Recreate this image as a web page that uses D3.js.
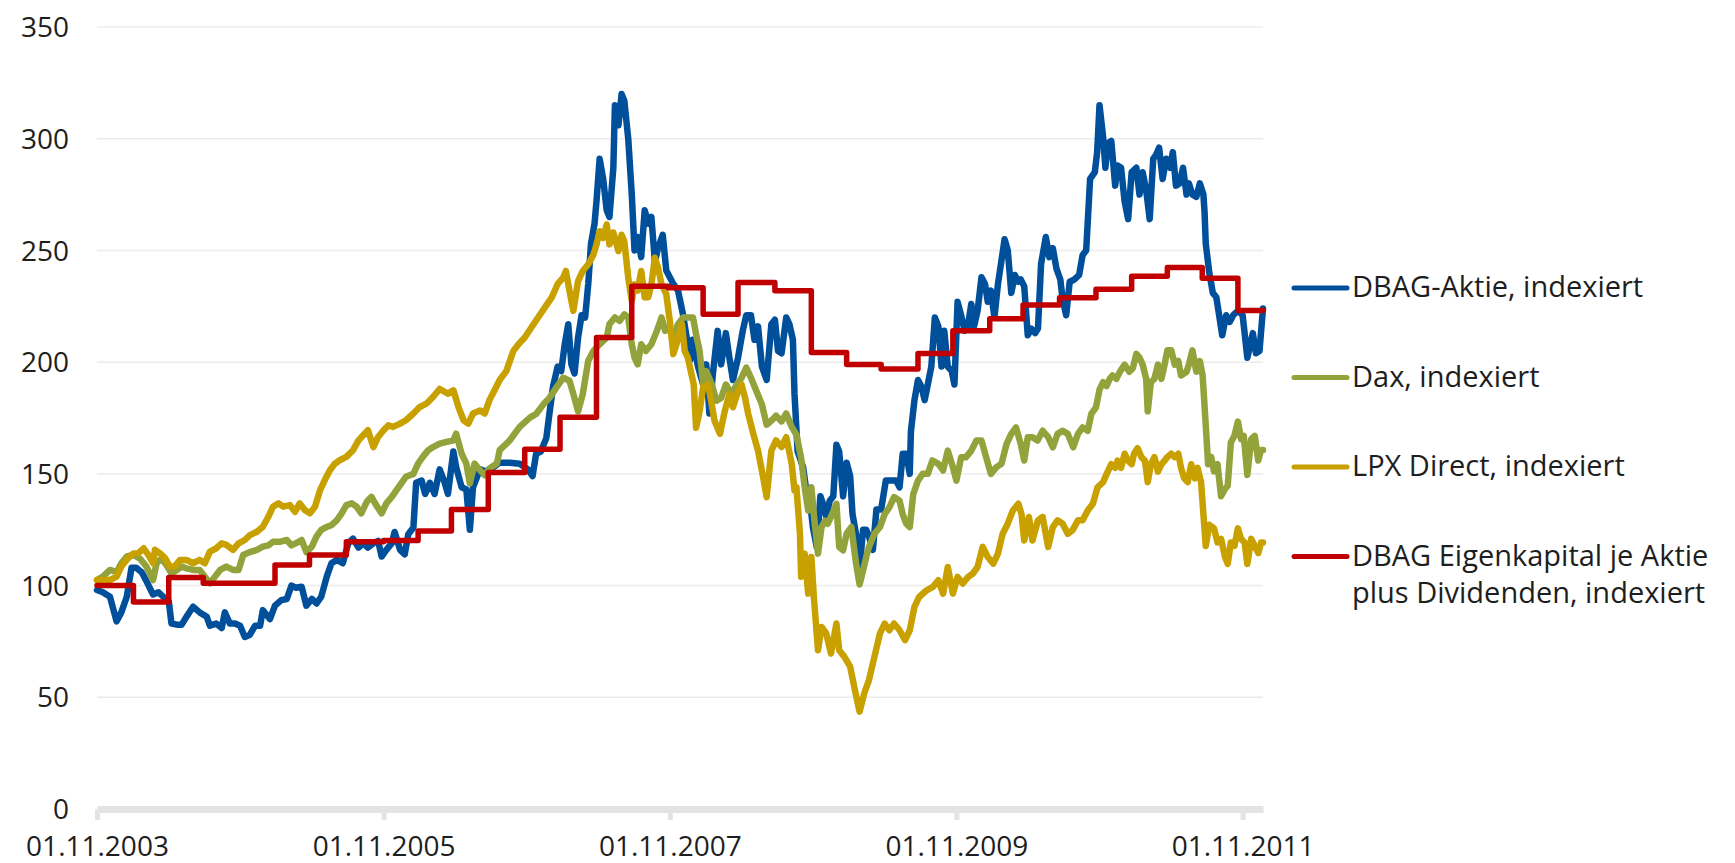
<!DOCTYPE html>
<html>
<head>
<meta charset="utf-8">
<script src="https://cdn.jsdelivr.net/npm/d3@7"></script>
<style>
    body { margin: 0; background: #fff; }
    #chart { width: 1735px; height: 863px; }
    text { font-family: 'Open Sans', 'Noto Sans', sans-serif; fill: #1e1e1e; }
    .grid { stroke: #ececec; stroke-width: 1.5; }
    .axis-x .domain { stroke: #e3e3e3; stroke-width: 7; }
    .axis-x .tick line { stroke: #e3e3e3; stroke-width: 5; }
    .series { fill: none; stroke-linejoin: round; stroke-linecap: round; }
</style>
</head>
<body>
<div id="chart"></div>
<script>
// values
// each point: [months since 01.11.2003, indexed value]
const dbagAktie = [
    [0,98],[0.5,97],[1.1,95],[1.65,84],[2.05,88],[2.5,95],[2.9,108],[3.3,108],[3.75,106],[4.15,102],[4.7,96],[5.15,97],[5.55,95],[6.0,93],[6.25,83],[6.7,82.5],[7.1,82.5],[7.5,86],[8.05,90.5],[8.6,88],[9.2,86],[9.45,82],[10.0,83],[10.45,81],[10.7,88],[11.15,83],[11.55,83],[12.0,82],[12.4,77],[12.8,78],[13.25,82],[13.65,82],[13.9,89],[14.5,85],[14.9,91],[15.45,93.5],[15.9,94],[16.3,100],[16.7,99],[17.15,99.5],[17.55,91],[18.0,94],[18.4,92],[18.8,95],[19.25,104],[19.65,110],[20.1,111.5],[20.6,110],[21.05,119],[21.45,121],[21.9,117],[22.3,119],[22.7,117],[23.15,119],[23.55,120],[23.85,113],[24.25,116],[24.7,119],[24.95,124],[25.4,116],[25.8,114],[26.1,123],[26.5,126],[26.75,146],[27.2,147],[27.5,141],[27.9,146],[28.3,141],[28.7,152],[29.15,146],[29.4,141],[29.85,160],[30.1,153],[30.55,144],[30.95,143],[31.25,125],[31.5,144],[32.1,152],[32.6,151],[33.2,153],[33.75,155],
    [34.6,155],[35.4,154.5],[36.1,152],[36.5,149],[36.8,159],[37.2,160],[37.65,166],[37.9,177],[38.2,189],[38.6,198],[38.9,196],[39.2,208],[39.5,217],[39.75,199],[40.0,195],[40.3,211],[40.6,221],[40.9,220],[41.15,235],[41.4,253],[41.7,262],[41.85,272],[42.1,291],[42.4,282],[42.7,268],[42.95,265],[43.25,287],[43.4,315],[43.7,306],[43.95,320],[44.2,317],[44.5,300],[44.8,275],[45.05,250],[45.3,256],[45.6,247],[45.9,268],[46.2,262],[46.45,265],[46.75,245],[47.0,251],[47.4,257],[47.7,241],[48.0,238],[48.3,235],[48.7,232],[49.1,221],[49.4,211],[49.7,201],[49.9,210],[50.35,198],[50.8,190],[51.05,199],[51.3,177],[51.6,195],[52.0,214],[52.3,199],[52.7,213],[53.0,202],[53.3,192],[53.7,202],[54.1,214],[54.4,221],[54.8,221],[55.1,210],[55.4,216],[55.7,198],[56.1,192],[56.5,217],[56.8,219],[57.05,205],[57.35,204],[57.75,220],[58.0,217],[58.3,210],[58.45,186],[58.7,160],
    [59.15,153],[59.4,144],[59.7,140],[60.0,126],[60.3,117],[60.6,140],[60.8,137],[61.1,131],[61.4,138],[61.7,140],[61.95,163],[62.2,160],[62.5,140],[62.8,155],[63.1,149],[63.3,132],[63.6,123],[63.9,108],[64.2,125],[64.45,125],[64.7,122],[65.0,116],[65.3,134],[65.7,134],[66.1,147],[66.55,147],[66.95,147],[67.25,144],[67.5,159],[67.8,159],[68.1,150],
    [68.2,169],[68.5,183],[68.8,192],[69.1,189],[69.35,183],[69.6,190],[69.9,198],[70.2,220],[70.5,216],[70.75,198],[71.0,214],[71.3,198],[71.6,196],[71.85,190],[72.1,227],[72.4,221],[72.7,214],[72.95,216],[73.25,226],[73.5,216],[73.8,223],[74.1,238],[74.4,235],[74.65,227],[74.9,232],[75.2,220],[75.5,235],
    [76.05,255],[76.3,250],[76.6,231],[76.9,239],[77.2,236],[77.4,237],[77.7,234],[78.0,212],[78.3,215],[78.6,213],[78.85,215],[79.1,244],[79.5,256],[79.8,247],[80.1,251],[80.4,242],[80.7,237],[80.9,228],[81.2,221],[81.5,236],[81.9,237],[82.3,239],[82.6,248],[82.9,250],[83.2,282],[83.6,285],[83.8,294],[84.0,315],[84.3,301],[84.5,287],[84.7,298],[85.0,299],[85.3,279],[85.5,288],[85.8,287],[86.1,272],[86.4,264],[86.7,285],[87.1,287],[87.35,275],[87.6,285],[87.9,277],[88.2,264],[88.5,291],[88.75,293],[89.0,296],[89.3,282],[89.6,291],[89.9,287],[90.15,294],[90.4,279],[90.7,280],[91.0,287],[91.3,275],[91.5,280],[91.8,275],[92.1,274],[92.4,280],[92.7,275],[92.8,267],[92.9,253],[93.2,240],[93.5,231],[93.8,229],[94.05,220],[94.3,212],[94.6,221],[94.9,218],[95.2,221],[95.6,223],[96.0,221],[96.4,202],[96.85,213],[97.1,204],[97.4,205],[97.7,224]
];

const dax = [
    [0,102.5],[0.5,104],[1.1,107],[1.65,106],[2.05,110],[2.5,113],[3.05,113.7],[3.6,112],[4.15,108.5],[4.7,102.5],[5.0,110],[5.4,112],[5.85,109],[6.25,105.5],[6.7,107],[7.1,108.5],[7.5,107.7],[8.05,107],[8.6,107],[9.05,104],[9.45,101],[9.9,104],[10.3,107],[10.85,108.5],[11.4,107],[11.85,107],[12.25,113.7],[12.8,115],[13.4,116],[13.9,117.4],[14.35,118],[14.75,119.6],[15.3,119.6],[15.9,120.4],[16.3,118],[16.7,119],[17.15,120.4],[17.55,115],[18.0,117.4],[18.4,122],[18.8,124.9],[19.25,126.3],[19.65,127],[20.1,129.3],[20.5,132.3],[20.9,136],[21.35,136.8],[21.75,135.3],[22.15,132.3],[22.6,137.5],[23.0,139.7],[23.4,136],[23.85,132.3],[24.25,136.8],[24.7,139.7],[25.1,142.7],[25.5,145.7],[25.9,148.7],[26.5,150],[26.9,154.6],[27.3,157.6],[27.75,160.6],[28.15,162],[28.7,163.5],[29.3,164.3],[29.85,165],[30.1,168],[30.55,159],[30.95,154.6],[31.25,145.7],[31.65,154.6],[32.1,151.6],[32.5,149.4],[32.9,152.4],[33.5,154.6],[33.75,160.6],
    [34.6,165],[35.4,171],[36.3,175.3],[36.8,176.8],[37.4,181],[37.9,184],[38.5,188.7],[39.05,193],[39.6,191.7],[39.9,185.7],[40.3,178],[40.7,185.7],[41.15,200.6],[41.6,205],[42.1,208],[42.7,211],[42.95,217],[43.4,220],[43.8,218.5],[44.2,221.4],[44.5,220],[44.8,208],[45.05,202],[45.3,199],[45.6,208],[46.0,205],[46.45,208],[46.9,214],[47.3,220],[47.6,214],[47.85,215.5],[48.3,211],[48.7,217],[49.1,220],[49.5,220],[49.95,220],[50.2,212.5],[50.5,205],[50.8,190],[51.05,196],[51.5,190],[51.9,182.7],[52.3,184],[52.7,190],[53.15,185.7],[53.6,190],[54.0,193],[54.4,197.6],[54.8,193],[55.25,187],[55.7,181],[56.1,172],[56.5,173.8],[56.9,176],[57.35,173.5],[57.75,177],[58.2,171],[58.6,167.5],[59.0,157],
    [59.3,144],[59.6,133.6],[59.85,144],[60.1,130.7],[60.4,114.3],[60.7,126.2],[61.0,129],[61.25,127.7],[61.5,130.7],[61.95,136.6],[62.2,117.3],[62.5,115.8],[62.8,123.2],[63.2,126.2],[63.6,110],[63.9,100.5],[64.2,106.8],[64.45,112.8],[64.7,117.3],[65.15,123.2],[65.6,126.2],[66.0,132],[66.4,135],[66.8,139.6],[67.25,138],[67.5,132],[67.8,127.7],[68.1,126.2],[68.4,141],[68.8,147],[69.2,150],[69.6,150],[70.0,156],[70.5,154.5],[70.9,151.5],[71.3,160.4],[71.7,153],[72.0,147],[72.4,157.4],[72.8,157.4],[73.25,160.4],[73.7,164.9],[74.1,164.9],[74.5,157.4],[74.9,150],[75.35,153],[75.8,154.5],[76.2,163.4],[76.6,167.9],[77.0,170.8],[77.4,163.4],[77.7,156],[78.0,166.4],[78.4,166.4],[78.8,164.9],[79.25,169.3],[79.7,166.4],[80.1,161.9],[80.5,167.9],[80.9,169.3],[81.35,167.9],[81.8,161.9],[82.2,167.9],[82.6,170.8],[83.0,169.3],[83.3,176.8],[83.7,179.8],
    [84.0,187.7],[84.3,191],[84.6,189.3],[84.85,192.5],[85.1,194],[85.4,192.5],[85.7,195.7],[86.1,198.9],[86.5,195.7],[86.8,197.3],[87.1,203.7],[87.35,202],[87.6,198.9],[87.9,192.5],[88.05,178],[88.3,191],[88.6,192.5],[88.9,198.9],[89.2,192.5],[89.45,198.9],[89.7,205.3],[90.0,205.3],[90.3,198.9],[90.6,200.5],[90.85,194],[91.3,195.7],[91.5,198.9],[91.8,205.3],[92.1,195.7],[92.4,200.5],[92.65,194],[92.9,171.8],[93.1,154.3],[93.35,157.5],[93.6,151.1],[93.9,154.3],[94.2,140],[94.5,143.2],[94.75,144.7],[95.0,164],[95.3,167],[95.6,173.4],[95.85,165.5],[96.1,167],[96.4,149.5],[96.7,165.5],[97.0,167],[97.3,156],[97.55,160.7],[97.7,160.7]
];

const lpxDirect = [
    [0,102.5],[0.5,102.5],[1.1,102.5],[1.65,104],[2.05,108.5],[2.6,112.2],[3.05,114.4],[3.45,114.4],[3.9,116.7],[4.3,113.7],[4.7,110],[4.85,116],[5.3,114.4],[5.7,112.2],[6.1,108.5],[6.5,108.5],[6.95,111.5],[7.5,111.5],[8.05,110],[8.6,111.5],[9.05,110],[9.45,115.2],[10.0,116.7],[10.45,118.9],[10.85,118.2],[11.4,116],[11.85,118.9],[12.4,120.4],[12.8,122.6],[13.4,124.1],[13.9,126.3],[14.35,130.8],[14.75,135.3],[15.2,136.8],[15.6,135.3],[16.15,136],[16.6,133],[17.0,136.8],[17.4,133.8],[17.85,132.3],[18.25,135.3],[18.7,142.7],[19.1,147.2],[19.5,151.6],[19.95,154.6],[20.35,156.1],[20.9,157.6],[21.45,160.6],[21.9,165],[22.3,167.3],[22.7,169.5],[23.15,162],[23.55,166.5],[24.0,169.5],[24.4,171.7],[24.8,171],[25.4,172.5],[25.9,174],[26.5,177],[27.05,179.9],[27.6,181.4],[28.15,184.4],[28.7,188],[29.4,185.9],[29.85,187.4],[30.3,179.9],[30.7,174],[31.1,172.5],[31.5,177],[32.1,178.4],[32.5,177],[32.9,183],[33.3,187.4],[33.75,192],
    [34.3,196],[34.9,205],[35.3,208],[35.85,211],[36.4,215.5],[36.95,220],[37.5,224.4],[38.1,229],[38.6,235],[39.05,237.8],[39.3,240.8],[39.6,232],[39.9,223],[40.3,236.3],[40.7,240.8],[41.15,243.8],[41.6,248],[41.85,252.7],[42.1,258.6],[42.4,255.6],[42.7,261.6],[42.95,252.7],[43.25,258],[43.7,249.7],[43.95,257],[44.2,254],[44.5,237.8],[44.8,227.4],[45.05,234.8],[45.3,232],[45.6,240.8],[45.9,229],[46.2,229],[46.45,234.8],[46.75,246.7],[47.0,242.3],[47.3,234.8],[47.7,230.4],[48.0,218.5],[48.3,203.6],[48.55,208],[49.0,217],[49.25,205],[49.5,202],[50.0,190],[50.2,170.6],[50.5,178],[50.8,188.7],[51.2,190],[51.5,181],[51.75,173.8],[52.2,167.9],[52.6,178],[53.0,185.7],[53.3,179.8],[53.7,187],[54.0,190],[54.3,184],[54.55,176.8],[55.0,167.9],[55.4,160.4],[55.8,148.5],[56.1,139.6],[56.5,160.4],[56.9,165],[57.35,162],[57.75,166.4],[58.2,154.5],[58.45,142.6],
    [58.6,144],[58.9,123.2],[59.0,103.9],[59.3,114.3],[59.6,96.4],[59.85,112.8],[60.1,93.5],[60.4,71.1],[60.7,81.5],[61.1,78.6],[61.5,69.6],[61.95,83],[62.2,71.1],[62.6,68.2],[63.1,63.7],[63.5,53.3],[63.9,43.6],[64.3,51.8],[64.7,57.7],[65.15,68.2],[65.6,78.6],[66.0,83],[66.4,80],[66.8,83],[67.25,80],[67.7,75.6],[68.1,80],[68.5,90.5],[68.9,94.9],[69.5,97.9],[70.05,99.4],[70.5,102.4],[70.9,96.4],[71.3,108.3],[71.7,96.4],[72.1,103.9],[72.55,100.9],[73.0,103.9],[73.4,105.4],[73.8,108.3],[74.2,117.3],[74.65,112.8],[75.1,109.8],[75.5,114.3],[75.9,123.2],[76.3,127.7],[76.75,133.6],[77.2,136.6],[77.45,132],[77.7,120.2],[78.1,130.7],[78.4,120.2],[78.85,129.2],[79.25,130.7],[79.7,117.3],[80.1,126.2],[80.5,129.2],[80.9,127.7],[81.35,123.2],[81.75,124.7],[82.2,129.2],[82.6,129.2],[83.0,133.6],[83.45,136.6],[83.85,144],
    [84.3,146.3],[84.7,151],[85.0,154.3],[85.3,152.7],[85.5,155.9],[85.8,152.7],[86.1,159],[86.4,155.9],[86.7,154.3],[86.9,159],[87.2,161.5],[87.5,157.5],[87.8,155.9],[88.05,146.3],[88.3,154.3],[88.6,157.5],[88.9,151],[89.2,154.3],[89.45,155.9],[89.7,157.5],[90.0,159],[90.3,157.5],[90.6,159],[90.85,152.7],[91.1,148],[91.4,146.3],[91.7,154.3],[92.0,148],[92.2,152.7],[92.5,146.3],[92.7,132],[92.9,117.7],[93.2,127.2],[93.6,125.6],[93.9,119.3],[94.2,120.9],[94.5,112.9],[94.75,109.7],[95.0,119.3],[95.3,117.7],[95.6,125.6],[95.85,120.9],[96.15,119.3],[96.4,109.7],[96.7,120.9],[97.0,117.7],[97.3,114.5],[97.55,119.3],[97.7,119.3]
];

// step series: value holds from this month until the next entry
const eigenkapital = [
    [0,100],[3.05,92.6],[6.0,103.6],[8.9,101],[14.9,109.2],[17.8,113.7],[20.9,119.6],[24.0,120.2],[26.9,124.4],[29.7,134],[32.8,150.6],[35.85,161],[38.8,175.3],[41.85,211],[44.8,234],[47.85,233.3],[50.8,221.4],[53.7,235.6],[56.8,232],[59.85,204.3],[62.8,199],[65.7,196.9],[68.8,203.9],[71.7,214],[74.8,219.4],[77.6,225.6],[80.65,228.8],[83.7,232.6],[86.7,238.4],[89.7,242.4],[92.6,237.6],[95.6,223.1],[97.7,223.1]
];

const seriesNames = [
    ['DBAG-Aktie, indexiert'],
    ['Dax, indexiert'],
    ['LPX Direct, indexiert'],
    ['DBAG Eigenkapital je Aktie', 'plus Dividenden, indexiert']
];
const seriesColors = ['#004f9b', '#93a23a', '#c8a000', '#c00000'];
const xTickLabels = ['01.11.2003', '01.11.2005', '01.11.2007', '01.11.2009', '01.11.2011'];
const yTicks = [0, 50, 100, 150, 200, 250, 300, 350];

// start of the month counter
const startDate = new Date(2003, 10, 1);
const toDate = m => d3.timeDay.offset(startDate, Math.round(m * 30.44));

function LineChart(_) {

    let _margin = {t:27, r:472, b:54, l:97};
    let _yMax = 350;
    let _lineWidth = 6.5;

    function exports(series) {

        const root = _;
        const clientWidth = 1735;
        const clientHeight = 863;
        const margin = _margin;
        const w = clientWidth - (margin.r + margin.l);
        const h = clientHeight - (margin.t + margin.b);

        let svg = d3.select(root)
            .selectAll('svg')
            .data([1]);
        const svgEnter = svg.enter()
            .append('svg');
        svg = svg.merge(svgEnter)
            .attr('width', clientWidth)
            .attr('height', clientHeight);

        let plot = svg.selectAll('.plot')
            .data([1]);
        const plotEnter = plot.enter()
            .append('g')
            .attr('class', 'plot')
            .attr('transform', `translate(${margin.l},${margin.t})`);
        plot = plot.merge(plotEnter);

        // scales
        const lastDate = toDate(d3.max(series, s => s.values[s.values.length - 1][0]));
        const scaleX = d3.scaleTime()
            .domain([startDate, lastDate])
            .range([0, w]);
        const scaleY = d3.scaleLinear()
            .domain([0, _yMax])
            .range([h, 0]);

        // horizontal gridlines
        plot.selectAll('.grid')
            .data(yTicks.filter(d => d > 0))
            .enter()
            .append('line')
            .attr('class', 'grid')
            .attr('x1', 0)
            .attr('x2', w)
            .attr('y1', d => scaleY(d))
            .attr('y2', d => scaleY(d));

        // y labels, no axis line
        plot.selectAll('.y-label')
            .data(yTicks)
            .enter()
            .append('text')
            .attr('class', 'y-label')
            .attr('x', -28)
            .attr('y', d => scaleY(d))
            .attr('dy', '0.36em')
            .attr('text-anchor', 'end')
            .style('font-size', '28px')
            .text(d => d);

        // x axis
        const parseTick = d3.timeParse('%d.%m.%Y');
        const axisX = d3.axisBottom()
            .scale(scaleX)
            .tickValues(xTickLabels.map(parseTick))
            .tickFormat(d3.timeFormat('%d.%m.%Y'))
            .tickSize(11)
            .tickSizeOuter(0);

        const axisXNode = plot.append('g')
            .attr('class', 'axis axis-x')
            .attr('transform', `translate(0,${h})`)
            .call(axisX);
        axisXNode.selectAll('text')
            .attr('y', 47)
            .attr('dy', 0)
            .style('font-size', '28px')
            .style('fill', '#1e1e1e');

        // lines
        const line = d3.line()
            .x(d => scaleX(toDate(d[0])))
            .y(d => scaleY(d[1]));

        plot.selectAll('.series')
            .data(series)
            .enter()
            .append('path')
            .attr('class', 'series')
            .attr('stroke', d => d.color)
            .attr('stroke-width', d => d.step ? _lineWidth - 1 : _lineWidth)
            .attr('d', d => line.curve(d.step ? d3.curveStepAfter : d3.curveLinear)(d.values));

        // legend
        const legend = svg.append('g')
            .attr('class', 'legend')
            .attr('transform', 'translate(1292,288)');
        const item = legend.selectAll('.item')
            .data(series)
            .enter()
            .append('g')
            .attr('class', 'item')
            .attr('transform', (d, i) => `translate(0,${i * 89.5})`);
        item.append('line')
            .attr('x1', 2)
            .attr('x2', 55)
            .attr('stroke', d => d.color)
            .attr('stroke-width', 5)
            .attr('stroke-linecap', 'round');
        item.append('text')
            .attr('x', 60)
            .attr('y', 9)
            .style('font-size', '29px')
            .selectAll('tspan')
            .data(d => d.name)
            .enter()
            .append('tspan')
            .attr('x', 60)
            .attr('dy', (d, i) => i ? 37 : 0)
            .text(d => d);
    }

    exports.margin = function(_) {
        if (_ === undefined) return _margin;
        _margin = _;
        return this;
    };

    exports.yMax = function(_) {
        if (_ === undefined) return _yMax;
        _yMax = _;
        return this;
    };

    exports.lineWidth = function(_) {
        if (_ === undefined) return _lineWidth;
        _lineWidth = _;
        return this;
    };

    return exports;
}

const series = [dbagAktie, dax, lpxDirect, eigenkapital].map((values, i) => ({
    name: seriesNames[i],
    color: seriesColors[i],
    step: i === 3,
    values: values
}));

LineChart(document.getElementById('chart'))(series);
</script>
</body>
</html>
